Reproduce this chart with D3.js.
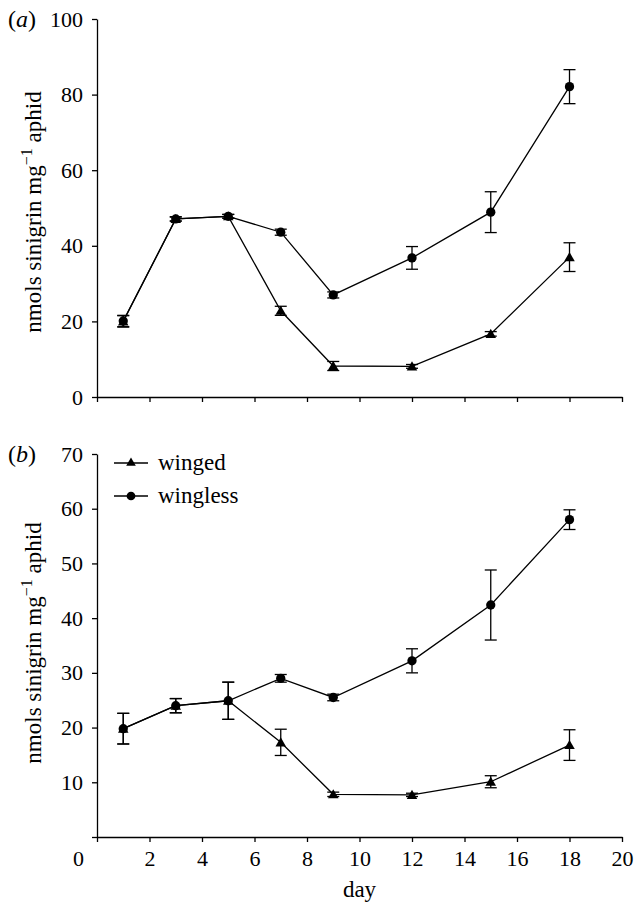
<!DOCTYPE html>
<html>
<head>
<meta charset="utf-8">
<script src="https://cdn.jsdelivr.net/npm/d3@7"></script>
<style>
  body { margin: 0; background: #fff; }
  svg text { font-family: "Liberation Serif", "Times New Roman", serif; fill: #000; }
</style>
</head>
<body>
<svg id="chart" width="642" height="903"></svg>
<script>
// data
const days = [1, 3, 5, 7, 9, 12, 15, 18];
// panel (a)
const wingedA = [20, 47.1, 47.8, 22.8, 8.2, 8.1, 16.7, 37.0];
const wingedAErr = [1.5, 0.5, 0.5, 1.2, 1.2, 0.5, 0.6, 3.8];
const winglessA = [20.1, 47.1, 47.8, 43.6, 27.0, 36.8, 48.9, 82.1];
const winglessAErr = [1.5, 0.6, 0.5, 0.8, 0.8, 3.0, 5.4, 4.5];
// panel (b)
const wingedB = [19.8, 24.0, 24.9, 17.3, 7.8, 7.7, 10.1, 16.8];
const wingedBErr = [2.8, 1.3, 3.4, 2.4, 0.4, 0.3, 1.1, 2.8];
const winglessB = [19.8, 24.0, 24.9, 29.0, 25.5, 32.2, 42.4, 58.0];
const winglessBErr = [2.8, 1.3, 3.4, 0.7, 0.6, 2.2, 6.4, 1.8];
const xTicks = [0, 2, 4, 6, 8, 10, 12, 14, 16, 18, 20];
const yTicksA = [0, 20, 40, 60, 80, 100];
const yTicksB = [0, 10, 20, 30, 40, 50, 60, 70];
const seriesNames = ["winged", "wingless"];

const svg = d3.select("#chart");
const x = d3.scaleLinear().domain([0, 20]).range([97, 622]);
const triSize = 48, circSize = 68;

function drawPanel(opts) {
    const g = svg.append("g");
    const y = d3.scaleLinear().domain([0, opts.yMax]).range([opts.bottom, opts.top]);

    // x axis
    const xAxis = d3.axisBottom(x).tickValues(xTicks).tickSize(5).tickSizeOuter(0)
        .tickFormat(opts.xLabels ? d3.format("d") : "");
    const gx = g.append("g").attr("transform", `translate(0,${opts.bottom})`).call(xAxis);
    gx.selectAll("text").attr("font-size", 22).attr("dy", "0.95em");
    // zero label sits left of the y axis
    gx.selectAll(".tick").filter(d => d === 0).select("text").attr("x", -19);

    // y axis
    const yAxis = d3.axisLeft(y).tickValues(opts.yTicks).tickSize(5).tickSizeOuter(0)
        .tickFormat(d => (opts.hideZero && d === 0) ? "" : d);
    const gy = g.append("g").attr("transform", `translate(${x(0)},0)`).call(yAxis);
    gy.selectAll("text").attr("font-size", 22).attr("x", -14);
    g.selectAll(".domain, .tick line").attr("stroke", "#000").attr("stroke-width", 1.3);

    // panel letter
    const lab = g.append("text").attr("x", 8).attr("y", opts.top + 8).attr("font-size", 24);
    lab.append("tspan").text("(");
    lab.append("tspan").attr("font-style", "italic").text(opts.letter);
    lab.append("tspan").text(")");

    // y label
    const yl = g.append("text")
        .attr("transform", `translate(41,${opts.labelY}) rotate(-90)`)
        .attr("text-anchor", "middle").attr("font-size", 23);
    yl.append("tspan").text("nmols sinigrin mg");
    yl.append("tspan").attr("dy", -9).attr("font-size", 16).text("\u22121");
    yl.append("tspan").attr("dy", 9).text(" aphid");

    const line = d3.line().x(d => x(d[0])).y(d => y(d[1]));
    const series = [
        { vals: opts.winged, err: opts.wingedErr, shape: "tri" },
        { vals: opts.wingless, err: opts.winglessErr, shape: "circ" }
    ];
    series.forEach(s => {
        const pts = days.map((d, i) => [d, s.vals[i], s.err[i]]);
        g.append("path").datum(pts).attr("d", line)
            .attr("fill", "none").attr("stroke", "#000").attr("stroke-width", 1.3);
        const eb = g.append("g");
        pts.forEach(p => {
            const cx = x(p[0]), y1 = y(p[1] + p[2]), y2 = y(p[1] - p[2]);
            eb.append("line").attr("x1", cx).attr("x2", cx).attr("y1", y1).attr("y2", y2);
            eb.append("line").attr("x1", cx - 6).attr("x2", cx + 6).attr("y1", y1).attr("y2", y1);
            eb.append("line").attr("x1", cx - 6).attr("x2", cx + 6).attr("y1", y2).attr("y2", y2);
        });
        eb.selectAll("line").attr("stroke", "#000").attr("stroke-width", 1.3);
        const sym = s.shape === "tri" ? d3.symbolTriangle : d3.symbolCircle;
        const size = s.shape === "tri" ? triSize : circSize;
        g.selectAll(null).data(pts).join("path")
            .attr("d", d3.symbol().type(sym).size(size))
            .attr("transform", d => `translate(${x(d[0])},${y(d[1]) + (s.shape === "tri" ? 1 : 0)})`)
            .attr("fill", "#000");
    });
    return g;
}

drawPanel({
    letter: "a", top: 19, bottom: 397, yMax: 100, yTicks: yTicksA, labelY: 212,
    xLabels: false, hideZero: false,
    winged: wingedA, wingedErr: wingedAErr, wingless: winglessA, winglessErr: winglessAErr
});
drawPanel({
    letter: "b", top: 454, bottom: 837, yMax: 70, yTicks: yTicksB, labelY: 643,
    xLabels: true, hideZero: true,
    winged: wingedB, wingedErr: wingedBErr, wingless: winglessB, winglessErr: winglessBErr
});

// x label
svg.append("text").attr("x", x(10)).attr("y", 897).attr("text-anchor", "middle")
    .attr("font-size", 23).text("day");

// legend
const legend = seriesNames.map((n, i) => ({
    name: n, sym: i === 0 ? d3.symbolTriangle : d3.symbolCircle, size: i === 0 ? 40 : 60
}));
const lg = svg.append("g").selectAll("g").data(legend).join("g")
    .attr("transform", (d, i) => `translate(114,${463 + i * 33})`);
lg.append("line").attr("x1", 0).attr("x2", 34).attr("stroke", "#000").attr("stroke-width", 1.3);
lg.append("path").attr("d", d => d3.symbol().type(d.sym).size(d.size)())
    .attr("transform", "translate(17,0)").attr("fill", "#000");
lg.append("text").attr("x", 44).attr("dy", "0.32em").attr("font-size", 23).text(d => d.name);
</script>
</body>
</html>
